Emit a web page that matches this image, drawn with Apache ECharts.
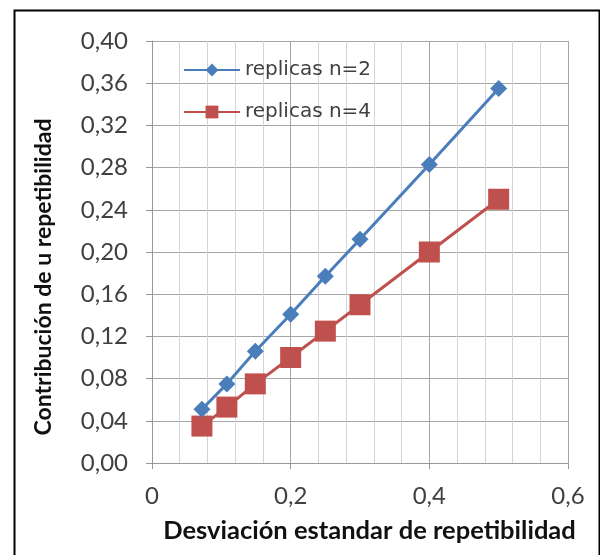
<!DOCTYPE html>
<html>
<head>
<meta charset="utf-8">
<script src="https://cdn.jsdelivr.net/npm/echarts@6/dist/echarts.min.js"></script>
<style>
html,body{margin:0;padding:0;background:#fff;}
#c{width:600px;height:555px;}
</style>
</head>
<body>
<div id="c"></div>
<script>
const xValues = [0.072, 0.108, 0.149, 0.2, 0.25, 0.3, 0.4, 0.5];
const seriesN2 = [0.051, 0.075, 0.106, 0.141, 0.177, 0.212, 0.283, 0.355];
const seriesN4 = [0.035, 0.053, 0.075, 0.100, 0.125, 0.150, 0.200, 0.250];
const seriesNames = ['replicas n=2', 'replicas n=4'];
const xTitle = 'Desviación estandar de repetibilidad';
const yTitle = 'Contribución de u repetibilidad';

const FONT = 'Lato';
const chart = echarts.init(document.getElementById('c'), null, {renderer: 'canvas'});
const pairs = (ys) => xValues.map((x, i) => [x, ys[i]]);

chart.setOption({
  animation: false,
  backgroundColor: '#fff',
  graphic: [{
    type: 'rect', left: 12, top: 8, z: 100,
    shape: {x: 0, y: 0, width: 585, height: 560},
    style: {fill: 'none', stroke: '#000', lineWidth: 2}
  }],
  grid: {left: 152, right: 32, top: 41, bottom: 92},
  legend: {
    orient: 'vertical', left: 178, top: 55, itemGap: 22,
    itemWidth: 56, itemHeight: 16,
    textStyle: {fontFamily: 'DejaVu Sans', fontSize: 20, color: '#404040', padding: [0, 0, 0, 0]},
    data: seriesNames
  },
  xAxis: {
    type: 'value', min: 0, max: 0.6, interval: 0.2,
    axisLine: {show: true, lineStyle: {color: '#999', width: 1}},
    axisTick: {show: true, length: 6, lineStyle: {color: '#999'}},
    minorTick: {show: false, splitNumber: 5},
    splitLine: {show: true, lineStyle: {color: '#a6a6a6', width: 1}},
    minorSplitLine: {show: true, lineStyle: {color: '#d4d4d4', width: 1}},
    axisLabel: {fontFamily: FONT, fontSize: 24, color: '#404040', margin: 21,
      formatter: v => v === 0 ? '0' : v.toFixed(1).replace('.', ',')},
    name: xTitle, nameLocation: 'middle', nameGap: 55,
    nameTextStyle: {fontFamily: FONT, fontSize: 25.5, fontWeight: 'bold', color: '#111', padding: [0, 0, 0, 19]}
  },
  yAxis: {
    type: 'value', min: 0, max: 0.4, interval: 0.04,
    axisLine: {show: true, lineStyle: {color: '#999', width: 1}},
    axisTick: {show: true, length: 6, lineStyle: {color: '#999'}},
    splitLine: {show: true, lineStyle: {color: '#a6a6a6', width: 1}},
    axisLabel: {fontFamily: FONT, fontSize: 24, color: '#404040', margin: 24,
      formatter: v => v.toFixed(2).replace('.', ',')},
    name: yTitle, nameLocation: 'middle', nameGap: 97, nameRotate: 90,
    nameTextStyle: {fontFamily: FONT, fontSize: 23, fontWeight: 'bold', color: '#111', padding: [0, 50, 0, 0]}
  },
  series: [
    {
      name: seriesNames[0], type: 'line', data: pairs(seriesN2),
      symbol: 'diamond', symbolSize: 17, z: 3,
      lineStyle: {color: '#4a7ebb', width: 3},
      itemStyle: {color: '#4a7ebb'}
    },
    {
      name: seriesNames[1], type: 'line', data: pairs(seriesN4),
      symbol: 'rect', symbolSize: 21, z: 2,
      lineStyle: {color: '#c0504d', width: 3},
      itemStyle: {color: '#c0504d'}
    }
  ]
});
</script>
</body>
</html>
